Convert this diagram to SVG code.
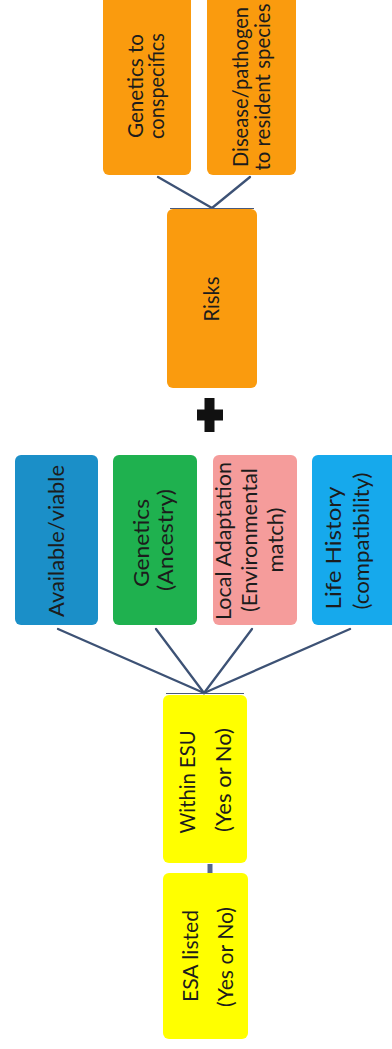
<svg xmlns="http://www.w3.org/2000/svg" width="392" height="1049" viewBox="0 0 392 1049">
  <style>
    .box { stroke: none; }
    .orange { fill: #fa9b0e; }
    .yellow { fill: #ffff00; }
    .blue { fill: #1b8fc8; }
    .green { fill: #1fb14f; }
    .pink { fill: #f59c9b; }
    .sky { fill: #16a9ec; }
    .lbl { font-family: Lato, "Liberation Sans", sans-serif; font-size: 21px; fill: #1c1c1c; text-anchor: middle; }
    .edge { stroke: #3d5275; stroke-width: 2.3; fill: none; stroke-linecap: round; }
    .rim { stroke: #4a5a7a; stroke-width: 1; }
  </style>

  <!-- connectors -->
  <g id="connectors">
    <line class="edge" x1="158" y1="177" x2="212" y2="208"/>
    <line class="edge" x1="250" y1="177" x2="212" y2="208"/>
    <line class="edge" x1="58" y1="629" x2="204" y2="693"/>
    <line class="edge" x1="156" y1="629" x2="204" y2="693"/>
    <line class="edge" x1="252" y1="629" x2="204" y2="693"/>
    <line class="edge" x1="350" y1="629" x2="204" y2="693"/>
    <line x1="210" y1="864" x2="210" y2="873" stroke="#56668c" stroke-width="5"/>
  </g>

  <!-- risk branch -->
  <g id="genetics-conspecifics">
    <rect class="box orange" x="103" y="-10" width="88" height="185" rx="6"/>
    <text class="lbl" transform="translate(143,86) rotate(-90)" textLength="104" lengthAdjust="spacingAndGlyphs">Genetics to</text>
    <text class="lbl" transform="translate(164,86) rotate(-90)" textLength="106" lengthAdjust="spacingAndGlyphs">conspecifics</text>
  </g>
  <g id="disease">
    <rect class="box orange" x="207" y="-10" width="89" height="185" rx="6"/>
    <text class="lbl" transform="translate(248,87) rotate(-90)" textLength="160" lengthAdjust="spacingAndGlyphs">Disease/pathogen</text>
    <text class="lbl" transform="translate(270,87) rotate(-90)" textLength="167" lengthAdjust="spacingAndGlyphs">to resident species</text>
  </g>
  <g id="risks">
    <rect class="box orange" x="167" y="209" width="90" height="179" rx="6"/>
    <line class="rim" x1="170" y1="208.5" x2="254" y2="208.5"/>
    <text class="lbl" transform="translate(219,299) rotate(-90)" textLength="45" lengthAdjust="spacingAndGlyphs">Risks</text>
  </g>

  <!-- plus sign -->
  <g id="plus">
    <rect x="204.5" y="398" width="10" height="34" fill="#111"/>
    <rect x="197" y="409.5" width="26" height="11" fill="#111"/>
  </g>

  <!-- criteria -->
  <g id="available">
    <rect class="box blue" x="15" y="455" width="83" height="170" rx="6"/>
    <text class="lbl" transform="translate(64,541) rotate(-90)" textLength="152" lengthAdjust="spacingAndGlyphs">Available/viable</text>
  </g>
  <g id="genetics-ancestry">
    <rect class="box green" x="113" y="455" width="84" height="170" rx="6"/>
    <text class="lbl" transform="translate(149,543) rotate(-90)" textLength="88" lengthAdjust="spacingAndGlyphs">Genetics</text>
    <text class="lbl" transform="translate(173,540) rotate(-90)" textLength="102" lengthAdjust="spacingAndGlyphs">(Ancestry)</text>
  </g>
  <g id="local-adaptation">
    <rect class="box pink" x="213" y="455" width="84" height="170" rx="6"/>
    <text class="lbl" transform="translate(231,541) rotate(-90)" textLength="158" lengthAdjust="spacingAndGlyphs">Local Adaptation</text>
    <text class="lbl" transform="translate(257,540) rotate(-90)" textLength="144" lengthAdjust="spacingAndGlyphs">(Environmental</text>
    <text class="lbl" transform="translate(283,540) rotate(-90)" textLength="65" lengthAdjust="spacingAndGlyphs">match)</text>
  </g>
  <g id="life-history">
    <rect class="box sky" x="312" y="455" width="86" height="170" rx="6" stroke="#2a3a55" stroke-width="1"/>
    <text class="lbl" transform="translate(341,548) rotate(-90)" textLength="123" lengthAdjust="spacingAndGlyphs">Life History</text>
    <text class="lbl" transform="translate(369,541) rotate(-90)" textLength="137" lengthAdjust="spacingAndGlyphs">(compatibility)</text>
  </g>

  <!-- listing status -->
  <g id="within-esu">
    <rect class="box yellow" x="163" y="695" width="84" height="168" rx="6"/>
    <line class="rim" x1="166" y1="693.5" x2="244" y2="693.5"/>
    <text class="lbl" transform="translate(195,782) rotate(-90)" textLength="103" lengthAdjust="spacingAndGlyphs">Within ESU</text>
    <text class="lbl" transform="translate(231,780) rotate(-90)" textLength="104" lengthAdjust="spacingAndGlyphs">(Yes or No)</text>
  </g>
  <g id="esa-listed">
    <rect class="box yellow" x="163" y="873" width="85" height="166" rx="6"/>
    <text class="lbl" transform="translate(198,956) rotate(-90)" textLength="92" lengthAdjust="spacingAndGlyphs">ESA listed</text>
    <text class="lbl" transform="translate(233,957) rotate(-90)" textLength="100" lengthAdjust="spacingAndGlyphs">(Yes or No)</text>
  </g>
</svg>
